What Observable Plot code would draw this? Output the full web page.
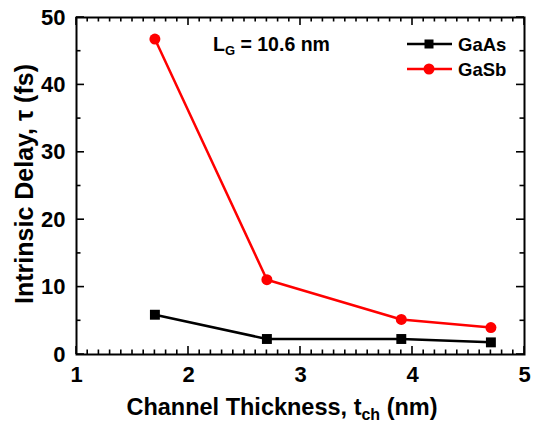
<!DOCTYPE html>
<html><head><meta charset="utf-8">
<script src="https://cdn.jsdelivr.net/npm/d3@7"></script>
<script src="https://cdn.jsdelivr.net/npm/@observablehq/plot@0.6"></script>
<style>
body{margin:0;background:#fff}
svg{font-family:"Liberation Sans",Arial,sans-serif;font-weight:bold}
</style>
</head><body><div id="chart"></div>
<script>
const thickness = [1.7, 2.7, 3.9, 4.7];
const gaAs = [5.9, 2.3, 2.3, 1.8];
const gaSb = [46.8, 11.1, 5.2, 4.0];
const seriesNames = ["GaAs", "GaSb"];
const seriesColors = ["#000000", "#ff0000"];
const xTicks = [1, 2, 3, 4, 5];
const yTicks = [0, 10, 20, 30, 40, 50];
const xMinor = [1.1,1.2,1.3,1.4,1.5,1.6,1.7,1.8,1.9,2.1,2.2,2.3,2.4,2.5,2.6,2.7,2.8,2.9,3.1,3.2,3.3,3.4,3.5,3.6,3.7,3.8,3.9,4.1,4.2,4.3,4.4,4.5,4.6,4.7,4.8,4.9];
const yMinor = [5, 15, 25, 35, 45];

const rowsAs = thickness.map((t, i) => ({t, v: gaAs[i], s: seriesNames[0]}));
const rowsSb = thickness.map((t, i) => ({t, v: gaSb[i], s: seriesNames[1]}));

const W = 533, H = 422, mL = 76, mR = 9, mT = 17, mB = 68;
const plot = Plot.plot({
  width: W, height: H,
  marginLeft: mL, marginRight: mR, marginTop: mT, marginBottom: mB,
  x: {domain: [1, 5]},
  y: {domain: [0, 50]},
  style: {fontFamily: "Liberation Sans, Arial, sans-serif", fontWeight: "bold", background: "#fff", color: "#000"},
  marks: [
    Plot.axisX({anchor: "bottom", ticks: xTicks, tickSize: 0, tickPadding: 12, fontSize: 22, fill: "#000", label: null, tickFormat: d => String(d)}),
    Plot.axisY({anchor: "left", ticks: yTicks, tickSize: 0, tickPadding: 11, fontSize: 22, fill: "#000", label: null, tickFormat: d => String(d)}),
    Plot.line(rowsAs, {x: "t", y: "v", stroke: seriesColors[0], strokeWidth: 2.5}),
    Plot.line(rowsSb, {x: "t", y: "v", stroke: seriesColors[1], strokeWidth: 2.5}),
    Plot.dot(rowsAs, {x: "t", y: "v", symbol: "square", r: 5.6, fill: seriesColors[0], stroke: "none"}),
    Plot.dot(rowsSb, {x: "t", y: "v", symbol: "circle", r: 5.5, fill: seriesColors[1], stroke: "none"}),
    Plot.frame({stroke: "#000", strokeWidth: 2})
  ]
});
document.getElementById("chart").appendChild(plot);

const svg = d3.select(plot);
const sx = plot.scale("x"), sy = plot.scale("y");
const x0 = mL, x1 = W - mR, y0 = mT, y1 = H - mB;
// inward ticks on all four sides, positioned through the plot's own scales
const tg = svg.append("g");
const seg = (xa, ya, xb, yb) => tg.append("path")
  .attr("d", `M${xa},${ya}L${xb},${yb}`)
  .attr("style", "stroke:#000;stroke-width:1.6px;fill:none");
const xTickMarks = (vals, len) => vals.forEach(v => {
  const px = sx.apply(v);
  seg(px, y1, px, y1 - len);
  seg(px, y0, px, y0 + len);
});
const yTickMarks = (vals, len) => vals.forEach(v => {
  const py = sy.apply(v);
  seg(x0, py, x0 + len, py);
  seg(x1, py, x1 - len, py);
});
xTickMarks(xMinor, 4.5); xTickMarks(xTicks, 8); yTickMarks(yMinor, 4.5); yTickMarks(yTicks, 8);

// x-axis title
const xt = svg.append("text").attr("x", 282).attr("y", 415).attr("text-anchor", "middle")
  .attr("font-size", 23.5).attr("fill", "#000");
xt.append("tspan").text("Channel Thickness, t");
xt.append("tspan").attr("dy", 5).attr("font-size", 16).text("ch");
xt.append("tspan").attr("dy", -5).text(" (nm)");
// y-axis title
svg.append("text").attr("transform", "translate(33,184) rotate(-90)").attr("text-anchor", "middle")
  .attr("font-size", 25).attr("fill", "#000").text("Intrinsic Delay, \u03c4 (fs)");
// annotation
const an = svg.append("text").attr("x", 213).attr("y", 51).attr("text-anchor", "start")
  .attr("font-size", 19.5).attr("fill", "#000");
an.append("tspan").text("L");
an.append("tspan").attr("dy", 4).attr("font-size", 13).text("G");
an.append("tspan").attr("dy", -4).text(" = 10.6 nm");
// legend
const lg = svg.append("g");
seriesNames.forEach((name, i) => {
  const y = 44 + i * 25;
  lg.append("line").attr("x1", 407).attr("x2", 452).attr("y1", y).attr("y2", y)
    .attr("stroke", seriesColors[i]).attr("stroke-width", 2.5);
  if (i === 0) lg.append("rect").attr("x", 424.5).attr("y", y - 4.5).attr("width", 9).attr("height", 9).attr("fill", seriesColors[i]);
  else lg.append("circle").attr("cx", 429).attr("cy", y).attr("r", 5.5).attr("fill", seriesColors[i]);
  lg.append("text").attr("x", 458).attr("y", y + 6.5).attr("text-anchor", "start")
    .attr("font-size", 18.5).attr("fill", "#000").text(name);
});
</script>
</body></html>
